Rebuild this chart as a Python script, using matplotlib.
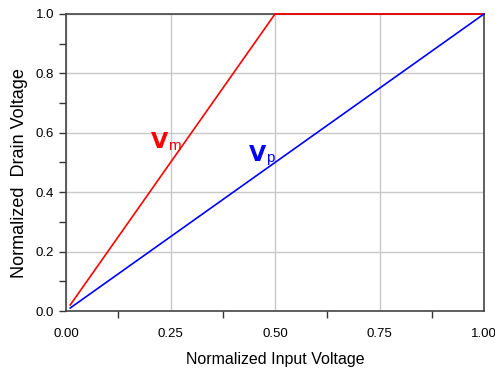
import matplotlib
matplotlib.use("Agg")
import matplotlib.pyplot as plt
from matplotlib.ticker import MultipleLocator

plt.rcParams['font.family'] = ['Liberation Sans', 'DejaVu Sans']

x_m = [0.01, 0.5, 1.0]
y_m = [0.02, 1.0, 1.0]
x_p = [0.01, 1.0]
y_p = [0.01, 1.0]

fig = plt.figure(figsize=(4.95, 3.77), dpi=100)
ax = fig.add_axes([66/495, 1 - 311/377, (484-66)/495, (311-14)/377])

ax.plot(x_m, y_m, color='#ff0000', lw=1.2, clip_on=False, zorder=3)
ax.plot(x_p, y_p, color='#0000ff', lw=1.2, clip_on=False, zorder=3)

ax.set_xlim(0, 1)
ax.set_ylim(0, 1)
ax.xaxis.set_major_locator(MultipleLocator(0.25))
ax.xaxis.set_minor_locator(MultipleLocator(0.125))
ax.yaxis.set_major_locator(MultipleLocator(0.2))
ax.yaxis.set_minor_locator(MultipleLocator(0.1))
ax.xaxis.set_major_formatter(matplotlib.ticker.FormatStrFormatter('%.2f'))
ax.yaxis.set_major_formatter(matplotlib.ticker.FormatStrFormatter('%.1f'))
ax.grid(True, which='major', color='#c8c8c8', lw=1.0)
ax.set_axisbelow(True)
ax.tick_params(which='both', direction='out', color='#333333', labelsize=9.5, width=1)
ax.tick_params(which='major', length=5)
ax.tick_params(which='minor', length=5)
ax.tick_params(axis='x', which='major', length=0, pad=12)
for s in ax.spines.values():
    s.set_color('#444444')
    s.set_linewidth(1.2)

ax.set_xlabel('Normalized Input Voltage', fontsize=11.5, labelpad=9)
ax.set_ylabel('Normalized  Drain Voltage', fontsize=13)
ax.yaxis.set_label_coords(-0.090, 0.465)

ax.text(0.20, 0.566, r'$\mathbf{V}$', color='#ff0000', fontsize=16, ha='left', va='center')
ax.text(0.243, 0.555, 'm', color='#ff0000', fontsize=11, ha='left', va='center')
ax.text(0.435, 0.525, r'$\mathbf{V}$', color='#0000ff', fontsize=16, ha='left', va='center')
ax.text(0.478, 0.514, 'p', color='#0000ff', fontsize=11, ha='left', va='center')

fig.savefig('out.png', dpi=100)
